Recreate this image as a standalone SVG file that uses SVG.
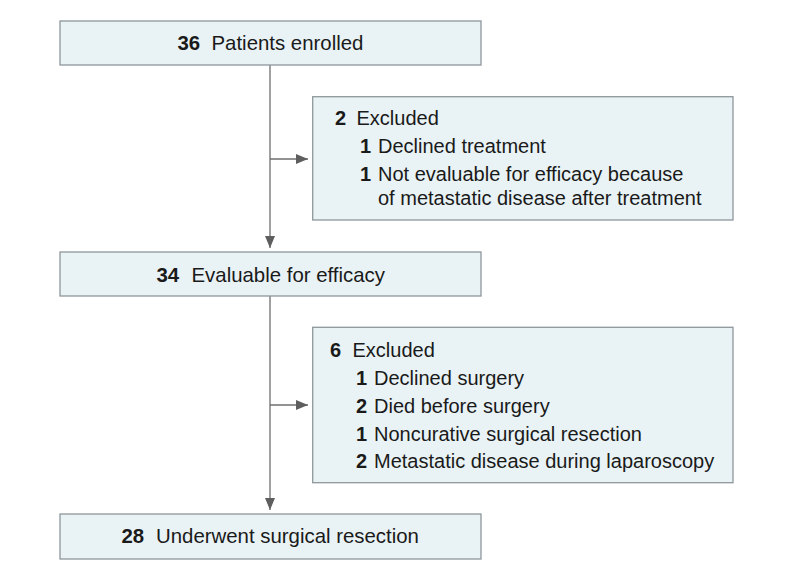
<svg xmlns="http://www.w3.org/2000/svg" width="794" height="580" viewBox="0 0 794 580">
<style>
.box{fill:#e9f3f5;stroke:#8e979b;stroke-width:1.3}
.t{font-family:"Liberation Sans",Arial,sans-serif;font-size:20px;fill:#1a1a1a}
.m{font-size:20.4px}
.b{font-weight:bold}
.ln{stroke:#6e6e6e;stroke-width:1.3;fill:none}
</style>
<defs>
<marker id="ah" markerUnits="userSpaceOnUse" markerWidth="12" markerHeight="10" refX="12" refY="5" orient="auto">
<path d="M0,0 L12,5 L0,10 Z" fill="#5e5e5e"/>
</marker>
</defs>
<rect width="794" height="580" fill="#ffffff"/>
<g id="connectors">
<path class="ln" d="M270,65 V248" marker-end="url(#ah)"/>
<path class="ln" d="M270,159 H308" marker-end="url(#ah)"/>
<path class="ln" d="M270,296 V510" marker-end="url(#ah)"/>
<path class="ln" d="M270,405 H308" marker-end="url(#ah)"/>
</g>
<g id="enrolled">
<rect class="box" x="60" y="21" width="421" height="44"/>
<text class="t m" y="50"><tspan class="b" x="177.5">36</tspan><tspan x="211.5">Patients enrolled</tspan></text>
</g>
<g id="excluded1">
<rect class="box" x="312.7" y="96.7" width="420.3" height="123.3"/>
<text class="t" y="125"><tspan class="b" x="335">2</tspan><tspan x="356.5">Excluded</tspan></text>
<text class="t" y="153"><tspan class="b" x="360">1</tspan><tspan x="378">Declined treatment</tspan></text>
<text class="t" y="181"><tspan class="b" x="360">1</tspan><tspan x="378">Not evaluable for efficacy because</tspan></text>
<text class="t" y="205"><tspan x="378">of metastatic disease after treatment</tspan></text>
</g>
<g id="evaluable">
<rect class="box" x="60" y="252" width="421" height="44"/>
<text class="t m" y="282"><tspan class="b" x="156.5">34</tspan><tspan x="191.5">Evaluable for efficacy</tspan></text>
</g>
<g id="excluded2">
<rect class="box" x="312.7" y="327.3" width="420.3" height="155.4"/>
<text class="t" y="356.5"><tspan class="b" x="330">6</tspan><tspan x="352.5">Excluded</tspan></text>
<text class="t" y="384.5"><tspan class="b" x="356">1</tspan><tspan x="374">Declined surgery</tspan></text>
<text class="t" y="412.5"><tspan class="b" x="356">2</tspan><tspan x="374">Died before surgery</tspan></text>
<text class="t" y="440.5"><tspan class="b" x="356">1</tspan><tspan x="374">Noncurative surgical resection</tspan></text>
<text class="t" y="468"><tspan class="b" x="356">2</tspan><tspan x="374">Metastatic disease during laparoscopy</tspan></text>
</g>
<g id="resection">
<rect class="box" x="60" y="514" width="421" height="45"/>
<text class="t m" y="543"><tspan class="b" x="121.5">28</tspan><tspan x="156">Underwent surgical resection</tspan></text>
</g>
</svg>
